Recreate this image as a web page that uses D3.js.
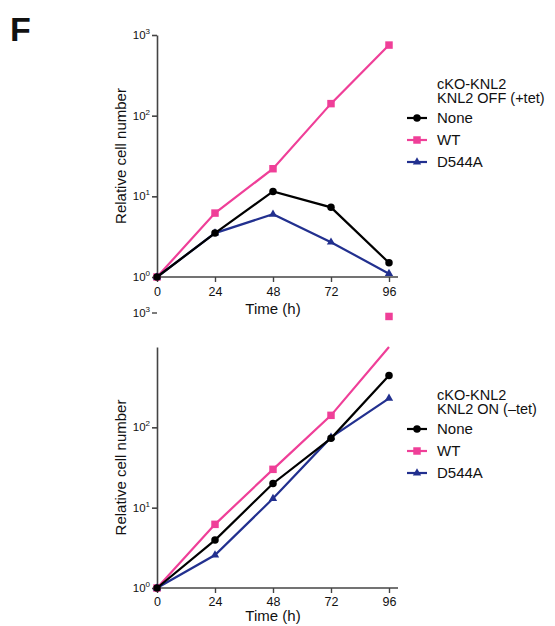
<!DOCTYPE html>
<html>
<head>
<meta charset="utf-8">
<script src="https://cdn.jsdelivr.net/npm/d3@7"></script>
<style>
body { margin: 0; background: #fff; }
text { font-family: "Liberation Sans", Arial, Helvetica, sans-serif; fill: #111; }
</style>
</head>
<body>
<svg id="chart" width="555" height="626"></svg>
<script>
// data (relative cell number, log scale)
var hours = [0, 24, 48, 72, 96];
var seriesNames = ["None", "WT", "D544A"];

// KNL2 OFF (+tet)
var offNone = [1, 3.5, 11.5, 7.3, 1.5];
var offWT = [1, 6.2, 22, 141, 750];
var offD544A = [1, 3.5, 6.0, 2.7, 1.1];

// KNL2 ON (-tet)
var onNone = [1, 3.95, 20, 73, 443];
var onWT = [1, 6.2, 30, 141, 2400];
var onD544A = [1, 2.57, 13, 75, 229];

var yTickValues = [1, 10, 100, 1000];
var yTickExponents = ["0", "1", "2", "3"];
var xTickValues = [0, 24, 48, 72, 96];
var offTitle = ["cKO-KNL2", "KNL2 OFF (+tet)"];
var onTitle = ["cKO-KNL2", "KNL2 ON (\u2013tet)"];

var colors = { "None": "#000000", "WT": "#ef3f98", "D544A": "#22308f" };
var symbols = { "None": d3.symbolCircle, "WT": d3.symbolSquare, "D544A": d3.symbolTriangle };
var symbolSizes = { "None": 44, "WT": 56, "D544A": 30 };
// WT, D544A first so None sits on top
var drawOrder = ["WT", "D544A", "None"];

var svg = d3.select("#chart");
var axisColor = "#444";

svg.append("text").attr("x", 10).attr("y", 41)
	.style("font-size", "34px").style("font-weight", "bold").text("F");

function drawPanel(cfg) {
	var x = d3.scaleLinear().domain([0, 96]).range([157, 389]);
	var y = d3.scaleLog().domain([1, 1000]).range([cfg.bottom, cfg.top]);
	var yLine = y.copy().clamp(true); // lines stop at the top of the axis
	var g = svg.append("g");

	// y axis
	var yAxis = d3.axisLeft(y).tickValues(cfg.shiftTop ? yTickValues.slice(0, 3) : yTickValues)
		.tickFormat("").tickSize(5).tickSizeOuter(0);
	var ya = g.append("g").attr("transform", "translate(157,0)").call(yAxis);
	ya.selectAll("path, line").attr("stroke", axisColor).attr("stroke-width", 1.6);

	yTickValues.forEach(function(v, i) {
		var ty = y(v);
		if (cfg.shiftTop && v === 1000) {
			ty = ty + cfg.shiftTop; // label sits above the axis end in the source
			g.append("line").attr("x1", 152).attr("x2", 157).attr("y1", ty).attr("y2", ty)
				.attr("stroke", axisColor).attr("stroke-width", 1.4);
		}
		var t = g.append("text").attr("x", 150).attr("y", ty + 4)
			.attr("text-anchor", "end").style("font-size", "11.5px");
		t.append("tspan").text("10");
		t.append("tspan").attr("dy", -5).style("font-size", "8px").text(yTickExponents[i]);
	});

	// x axis
	var xAxis = d3.axisBottom(x).tickValues(xTickValues).tickSize(5).tickPadding(cfg.tickPad).tickSizeOuter(0);
	var xa = g.append("g").attr("transform", "translate(0," + cfg.bottom + ")").call(xAxis);
	xa.select(".domain").remove();
	xa.append("line").attr("x1", 157).attr("x2", 398).attr("stroke", axisColor).attr("stroke-width", 1.6);
	xa.selectAll(".tick line").attr("stroke", axisColor).attr("stroke-width", 1.4);
	xa.selectAll(".tick text").style("font-size", "12.5px").style("font-family", "Liberation Sans, Arial, sans-serif").attr("fill", "#111");

	g.append("text").attr("x", 273).attr("y", cfg.bottom + cfg.titleGap).attr("text-anchor", "middle")
		.style("font-size", "15px").text("Time (h)");
	g.append("text")
		.attr("transform", "translate(126," + (cfg.top + cfg.bottom) / 2 + ") rotate(-90)")
		.attr("text-anchor", "middle").style("font-size", "15px").text("Relative cell number");

	// series
	var line = d3.line().x(function(d, i) { return x(hours[i]); }).y(function(d) { return yLine(d); });
	drawOrder.forEach(function(name) {
		var vals = cfg.data[name];
		g.append("path").datum(vals).attr("d", line).attr("fill", "none")
			.attr("stroke", colors[name]).attr("stroke-width", 2.2);
		g.selectAll(".pt-" + name).data(vals).enter().append("path")
			.attr("transform", function(d, i) { return "translate(" + x(hours[i]) + "," + y(d) + ")"; })
			.attr("d", d3.symbol().type(symbols[name]).size(symbolSizes[name]))
			.attr("fill", colors[name]);
	});

	// legend
	var ly = cfg.bottom - 188;
	cfg.title.forEach(function(s, i) {
		g.append("text").attr("x", 437).attr("y", ly + i * 14).style("font-size", "14.5px").text(s);
	});
	seriesNames.forEach(function(name, i) {
		var by = ly + 34 + i * 22;
		g.append("line").attr("x1", 407).attr("x2", 427).attr("y1", by - 5).attr("y2", by - 5)
			.attr("stroke", colors[name]).attr("stroke-width", 2.2);
		g.append("path").attr("transform", "translate(417," + (by - 5) + ")")
			.attr("d", d3.symbol().type(symbols[name]).size(symbolSizes[name])).attr("fill", colors[name]);
		g.append("text").attr("x", 437).attr("y", by).style("font-size", "15px").text(name);
	});
}

drawPanel({ top: 35, bottom: 277, title: offTitle, tickPad: 5, titleGap: 37,
	data: { "None": offNone, "WT": offWT, "D544A": offD544A } });
drawPanel({ top: 347, bottom: 588, title: onTitle, shiftTop: -34, tickPad: 4, titleGap: 33,
	data: { "None": onNone, "WT": onWT, "D544A": onD544A } });
</script>
</body>
</html>
